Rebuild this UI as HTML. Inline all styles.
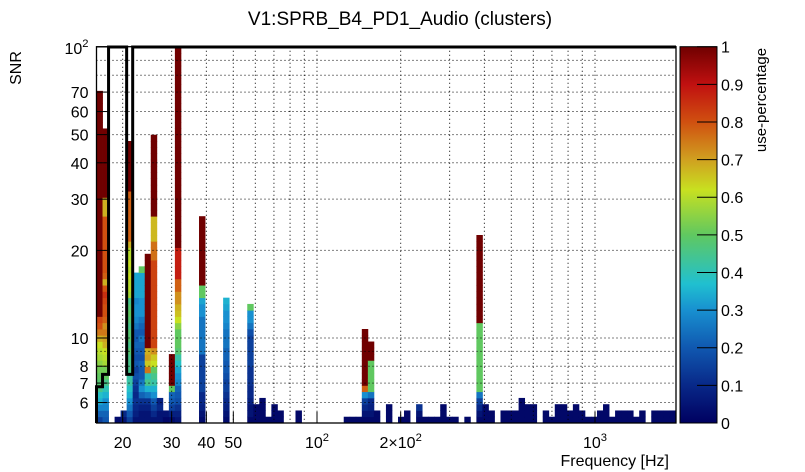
<!DOCTYPE html>
<html><head><meta charset="utf-8"><style>
html,body{margin:0;padding:0;background:#fff;}
svg{display:block;font-family:"Liberation Sans",Arial,sans-serif;}
</style></head><body>
<svg id="chart" width="805" height="472" viewBox="0 0 805 472">
<defs>
<linearGradient id="pal" x1="0" y1="1" x2="0" y2="0"></linearGradient>
</defs>
<rect width="805" height="472" fill="#fff"/>
<text x="400" y="25" font-size="19" text-anchor="middle">V1:SPRB_B4_PD1_Audio (clusters)</text>
<g id="cells"></g>
<g id="grid"></g>
<g id="axes"></g>
<g id="thresh"></g>
<g id="cbar"></g>
<text x="0" y="0" font-size="16" text-anchor="middle" transform="translate(21,68) rotate(-90)">SNR</text>
<text x="669" y="466" font-size="16" text-anchor="end">Frequency [Hz]</text>
<text x="0" y="0" font-size="15" text-anchor="middle" transform="translate(766,100) rotate(-90)">use-percentage</text>
</svg>
<script>
// ---- data ----
const colBins = [0,1,3,4,5,6,7,8,9,10,11,12,13,17,21,25,26,27,28,29,30,33,41,42,43,44,45,46,48,50,51,53,54,55,56,57,58,59,61,63,64,65,67,68,69,70,71,72,74,75,76,77,78,79,80,81,82,83,84,85,86,87,88,89,90,92,93,94,95];
const R1 = n => Array(n).fill(1);
const colValues = [
 [0.15,0.22,0.28,0.35,0.38,0.45,0.48,0.5,0.52,0.55,0.58,0.6,0.62,0.68,0.75,0.8,0.82].concat(R1(36)),
 [0.2,0.22,0.28,0.3,0.35,0.4,0.45,0.5,0.52,0.58,0.6,0.62,0.68,0.7,0.75,0.72,0.78,0.8,0.8,0.82,0.85,0.8,0.68,0.78,0.8,0.8,0.8,0.8,0.8,0.8,0.8,0.8,0.8,0.68,0.68,0.68].concat(R1(11)),
 [0.03],
 [0.05,0.1],
 [0.15,0.2,0.25,0.3,0.35,0.38,0.42,0.42,0.45,0.45,0.45,0.48,0.45,0.48,0.48,0.45,0.48,0.5,0.48,0.45,0.58,0.6,0.6,0.62,0.6,0.62,0.6,0.6,0.68,0.78,0.78,0.78,0.78,0.78,0.78,0.78,0.78].concat(R1(8)),
 [0.05,0.08,0.1,0.12,0.1,0.12,0.15,0.18,0.15,0.2,0.18,0.2,0.22,0.2,0.2,0.25,0.28,0.3,0.3,0.28,0.33,0.33,0.33,0.33],
 [0.05,0.05,0.08,0.12,0.22,0.3,0.25,0.2,0.2,0.22,0.18,0.2,0.22,0.25,0.2,0.22,0.25,0.3,0.3,0.3,0.33,0.33,0.33,0.33,0.5],
 [0.05,0.05,0.08,0.12,0.25,0.35,0.45,0.4,0.75,0.65,0.7,0.68].concat(R1(15)),
 [0.05,0.1,0.15,0.2,0.3,0.35,0.42,0.45,0.5,0.62,0.65,0.72,0.82,0.82,0.82,0.82,0.82,0.82,0.82,0.82,0.82,0.82,0.82,0.82,0.82,0.82,0.76,0.76,0.76,0.67,0.67,0.67,0.67].concat(R1(13)),
 [0.05,0.05,0.1,0.08],
 [0.02,0.05],
 [0.03,0.08,0.15,0.2,0.22,0.5,1,1,1,1,1],
 [0.05,0.08,0.12,0.18,0.2,0.22,0.28,0.3,0.33,0.38,0.42,0.48,0.5,0.5,0.5,0.55,0.62,0.66,0.68,0.72,0.72,0.78,0.78,0.88,0.88,0.88,0.88,0.88].concat(R1(32)),
 [0.03,0.05,0.08,0.1,0.1,0.15,0.15,0.15,0.15,0.15,0.15,0.25,0.25,0.25,0.25,0.25,0.25,0.3,0.3,0.33,0.5,0.5].concat(R1(11)),
 [0.03,0.05,0.08,0.1,0.12,0.15,0.15,0.18,0.2,0.2,0.22,0.22,0.25,0.25,0.25,0.28,0.3,0.3,0.33,0.35],
 [0.02,0.05,0.05,0.08,0.1,0.1,0.12,0.12,0.12,0.15,0.15,0.15,0.15,0.15,0.18,0.25,0.3,0.3,0.5],
 [0.02,0.02,0.02],[0.02,0.02,0.02,0.02],[0.02],[0.02,0.02,0.02],[0.02,0.02],[0.02,0.02],
 [0.02],[0.02],[0.02],
 [0.02,0.05,0.1,0.15,0.3,0.78].concat(R1(9)),
 [0.02,0.05,0.08,0.1,0.25,0.5,0.5,0.5,0.5,0.5,1,1,1],
 [0.02,0.02],[0.02,0.02,0.02],[0.02],[0.02,0.02],[0.02,0.05,0.12],[0.02],[0.02],[0.02],[0.02,0.02,0.02],[0.02],[0.02],[0.02],
 [0.02,0.05,0.1,0.15,0.25,0.5,0.5,0.5,0.5,0.5,0.5,0.5,0.5,0.5,0.5,0.5].concat(R1(14)),
 [0.02,0.02,0.02],[0.02,0.02],[0.02,0.02],[0.02,0.02],[0.02,0.02],[0.02,0.02,0.02,0.02],[0.02,0.02,0.02],[0.02,0.02,0.02],
 [0.02,0.02],[0.02],[0.02,0.02,0.02],[0.02,0.02,0.02],[0.02,0.02],[0.02,0.02,0.02],[0.02,0.02],[0.02],[0.02],[0.02,0.02],[0.02,0.02,0.02],[0.02],
 [0.02,0.02],[0.02,0.02],[0.02,0.02],[0.02],[0.02,0.02],[0.02,0.02],[0.02,0.02],[0.02,0.02],[0.02,0.02]
];
const threshBins = [0,1,2,3,4,5,6];
const threshSNR = [6.8,7.5,100,100,100,7.5,100];
const xTickVals = [20,30,40,50,100,200,1000];
const xTickLabels = ["20","30","40","50","10^2","2×10^2","10^3"];
const xGridVals = [20,30,40,50,60,70,80,90,100,200,300,400,500,600,700,800,900,1000];
const yTickVals = [6,7,8,10,20,30,40,50,60,70,100];
const yTickLabels = ["6","7","8","10","20","30","40","50","60","70","10^2"];
const yGridVals = [6,7,8,9,10,20,30,40,50,60,70,80,90];
const cbarTicks = [0,0.1,0.2,0.3,0.4,0.5,0.6,0.7,0.8,0.9,1];
const palStops = [[0,'#000060'],[0.1,'#082888'],[0.2,'#1058b0'],[0.3,'#1890d0'],[0.37,'#20c0d0'],[0.5,'#60c860'],[0.62,'#c8e020'],[0.7,'#d0a020'],[0.8,'#d05010'],[0.9,'#c01010'],[1,'#700000']];

// ---- scales ----
const L=96.5, Rt=676, T=46.7, B=423;
const xScale = f => 317 + 278*(Math.log10(f)-2);
const yScale = v => 338 - 291*(Math.log10(v)-1);
const fMin = Math.pow(10, 2-(317-L)/278);
const vMin = Math.pow(10, 1-(B-338)/291);
const binW = 6.03/278;           // decades per x bin
const nYBins = 60;
const binH = (Math.log10(100)-Math.log10(vMin))/nYBins;
const xEdge = i => xScale(fMin*Math.pow(10,i*binW));
const yEdge = k => yScale(vMin*Math.pow(10,k*binH));
const NS='http://www.w3.org/2000/svg';
function mk(tag, attrs, parent){const e=document.createElementNS(NS,tag);for(const k in attrs)e.setAttribute(k,attrs[k]);parent.appendChild(e);return e;}
function hex(h){return [1,3,5].map(i=>parseInt(h.substr(i,2),16));}
function color(v){
  for(let i=1;i<palStops.length;i++){
    if(v<=palStops[i][0]){const a=palStops[i-1],b=palStops[i];const t=(v-a[0])/(b[0]-a[0]);const ca=hex(a[1]),cb=hex(b[1]);
      return 'rgb('+ca.map((c,j)=>Math.round(c+(cb[j]-c)*t)).join(',')+')';}
  }
  return palStops[palStops.length-1][1];
}

// ---- cells ----
const gc=document.getElementById('cells');
colBins.forEach((bi,ci)=>{
  const vals=colValues[ci]; const x0=xEdge(bi), x1=Math.min(xEdge(bi+1),Rt);
  vals.forEach((v,k)=>{
    const y0=yEdge(k+1), y1=yEdge(k);
    const r=mk('rect',{x:x0.toFixed(2),y:y0.toFixed(2),width:(x1-x0+0.4).toFixed(2),height:(y1-y0+0.4).toFixed(2),fill:color(v)},gc);
    
    
  });
});

// ---- grid ----
const gg=document.getElementById('grid');
xGridVals.forEach(f=>{const x=xScale(f);
  const l=mk('line',{x1:x,x2:x,y1:T,y2:B,stroke:'#000','stroke-width':1,'stroke-dasharray':'1,3'},gg);
  
  });
yGridVals.forEach(v=>{const y=yScale(v);
  const l=mk('line',{x1:L,x2:Rt,y1:y,y2:y,stroke:'#000','stroke-width':1,'stroke-dasharray':'1,3'},gg);
  
  });

// ---- axes ----
const ga=document.getElementById('axes');
const fr=mk('rect',{x:L,y:T,width:Rt-L,height:B-T,fill:'none',stroke:'#000','stroke-width':1.3},ga);


function label(parent,x,y,s,anchor,size){
  const t=mk('text',{x:x,y:y,'font-size':size,'text-anchor':anchor},parent);
  const m=s.split('^');
  t.appendChild(document.createTextNode(m[0]));
  if(m[1]){const sp=mk('tspan',{dy:-7,'font-size':size*0.7},t);sp.textContent=m[1];}
  return t;
}
xTickVals.forEach((f,i)=>{const x=xScale(f);
  const tk=mk('line',{x1:x,x2:x,y1:B,y2:B-11,stroke:'#000','stroke-width':1},ga);
  
  
  const t=label(ga,x,B+25,xTickLabels[i],'middle',16);
  
  });
yTickVals.forEach((v,i)=>{const y=yScale(v);
  const tk=mk('line',{x1:L,x2:L+11,y1:y,y2:y,stroke:'#000','stroke-width':1},ga);
  
  
  const t=label(ga,L-8,y+(i===yTickVals.length-1?7:6),yTickLabels[i],'end',16);
  
  });

// ---- threshold line ----
const gt=document.getElementById('thresh');
let d='M'+xEdge(threshBins[0]).toFixed(2)+','+B;
threshBins.forEach((b,i)=>{
  const y=Math.max(yScale(threshSNR[i]),T);
  d+=' V'+y.toFixed(2)+' H'+(i===threshBins.length-1?Rt:xEdge(b+1)).toFixed(2);
});
const tp=mk('path',{d:d,fill:'none',stroke:'#000','stroke-width':3,'stroke-linejoin':'miter'},gt);



// ---- color bar ----
const grad=document.getElementById('pal');
palStops.forEach(s=>{mk('stop',{offset:s[0],'stop-color':s[1]},grad);});
const cb=document.getElementById('cbar');
const cbr=mk('rect',{x:680,y:T,width:37,height:B-T,fill:'url(#pal)'},cb);


const cbo=mk('rect',{x:680,y:T,width:37,height:B-T,fill:'none',stroke:'#000','stroke-width':1},cb);


cbarTicks.forEach(v=>{const y=B-(B-T)*v;
  const tk=mk('line',{x1:697,x2:717,y1:y,y2:y,stroke:'#000','stroke-width':1},cb);
  
  
  const t=mk('text',{x:721,y:y+6,'font-size':16},cb);t.textContent=String(v);
  
  });
</script>
</body></html>
